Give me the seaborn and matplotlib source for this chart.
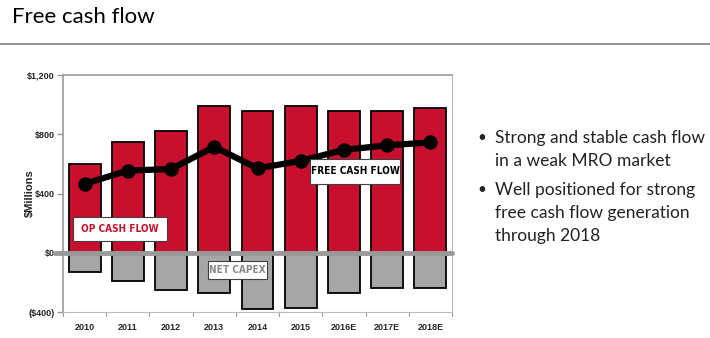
import matplotlib
matplotlib.use("Agg")
import matplotlib.pyplot as plt
import matplotlib.patches as mpatches
import seaborn as sns
import pandas as pd
import numpy as np

years = ["2010", "2011", "2012", "2013", "2014", "2015", "2016E", "2017E", "2018E"]
op_cash_flow = [600, 750, 820, 990, 960, 990, 960, 960, 980]
net_capex = [-130, -190, -250, -270, -380, -375, -270, -235, -235]
free_cash_flow = [465, 555, 565, 715, 570, 620, 695, 725, 745]
y_ticks = [-400, 0, 400, 800, 1200]
y_tick_labels = ["($400)", "$0", "$400", "$800", "$1,200"]
bullets = [
    "Strong and stable cash flow\nin a weak MRO market",
    "Well positioned for strong\nfree cash flow generation\nthrough 2018",
]

sns.set_style("white")
plt.rcParams["font.family"] = ["Liberation Sans", "DejaVu Sans"]

RED = "#C8102E"
GRAY = "#A6A6A6"

df = pd.DataFrame({"year": years, "op": op_cash_flow, "capex": net_capex, "fcf": free_cash_flow})

fig = plt.figure(figsize=(7.1, 3.38), dpi=100)
W, H = 710, 338
ax = fig.add_axes([63 / W, (H - 312) / H, (452 - 63) / W, (312 - 75) / H])

sns.barplot(data=df, x="year", y="op", color=RED, edgecolor="black", linewidth=1.3,
            width=0.74, ax=ax, saturation=1, zorder=2)
sns.barplot(data=df, x="year", y="capex", color=GRAY, edgecolor="black", linewidth=1.3,
            width=0.74, ax=ax, saturation=1, zorder=2)
sns.pointplot(data=df, x="year", y="fcf", color="black", markers="o", ax=ax,
              linewidth=4.5, markersize=7, zorder=4)

ax.axhline(0, xmin=-0.02, xmax=1.0, color="#999999", lw=3.5, zorder=3, clip_on=False)

ax.set_xlim(-0.5, 8.5)
ax.set_ylim(-400, 1200)
ax.set_yticks(y_ticks)
ax.set_yticklabels(y_tick_labels, fontsize=6.5, fontweight="bold")
ax.set_xticks(range(len(years)))
ax.set_xticklabels(years, fontsize=6.5, fontweight="bold")
ax.tick_params(axis="x", length=0, pad=8)
ax.tick_params(axis="y", length=4, width=1, color="#999999", direction="out", pad=2, left=True)
for b in np.arange(-0.5, 9, 1.0):
    ax.plot([b, b], [-400, -400 - 26], color="#999999", lw=0.8, clip_on=False)
ax.set_xlabel("")
ax.set_ylabel("$Millions", fontsize=8, fontweight="bold")
ax.yaxis.set_label_coords((35 - 63) / 389, 0.5)

for s in ["left", "top"]:
    ax.spines[s].set_color("#999999")
    ax.spines[s].set_linewidth(1.2)
for s in ["right", "bottom"]:
    ax.spines[s].set_color("#BBBBBB")
    ax.spines[s].set_linewidth(0.8)

def place(txt, x0, x1, y0, y1, color):
    fig.add_artist(mpatches.Rectangle((x0 / W, 1 - y1 / H), (x1 - x0) / W, (y1 - y0) / H,
                                      transform=fig.transFigure, facecolor="white",
                                      edgecolor="#404040", linewidth=0.8, zorder=6))
    fig.text((x0 + x1) / 2 / W, 1 - (y0 + y1) / 2 / H, txt, fontsize=7.2, fontweight="bold",
             fontstretch="condensed",
             color=color, ha="center", va="center", zorder=7,
             family=["DejaVu Sans"])
place("OP CASH FLOW", 73, 167, 216.7, 241, RED)
place("FREE CASH FLOW", 310, 400, 159, 184, "black")
place("NET CAPEX", 208, 267, 260.7, 279, "#888888")

fig.text(12 / W, 1 - 17 / H, "Free cash flow", fontsize=16, family=["Lato", "DejaVu Sans"],
         color="black", ha="left", va="center")
fig.add_artist(plt.Line2D([0, 1], [1 - 44 / H, 1 - 44 / H], color="#808080", lw=1.2))

starts = [137.7, 190]
for t, y0 in zip(bullets, starts):
    fig.text(482 / W, 1 - y0 / H, "\u2022", fontsize=11, family=["Lato", "DejaVu Sans"],
             color="#222222", ha="center", va="center")
    for i, line in enumerate(t.split("\n")):
        fig.text(495 / W, 1 - (y0 + i * 23) / H, line, fontsize=12.5,
                 family=["Lato", "DejaVu Sans"], color="#222222", ha="left", va="center")

fig.savefig("out.png", dpi=100)
